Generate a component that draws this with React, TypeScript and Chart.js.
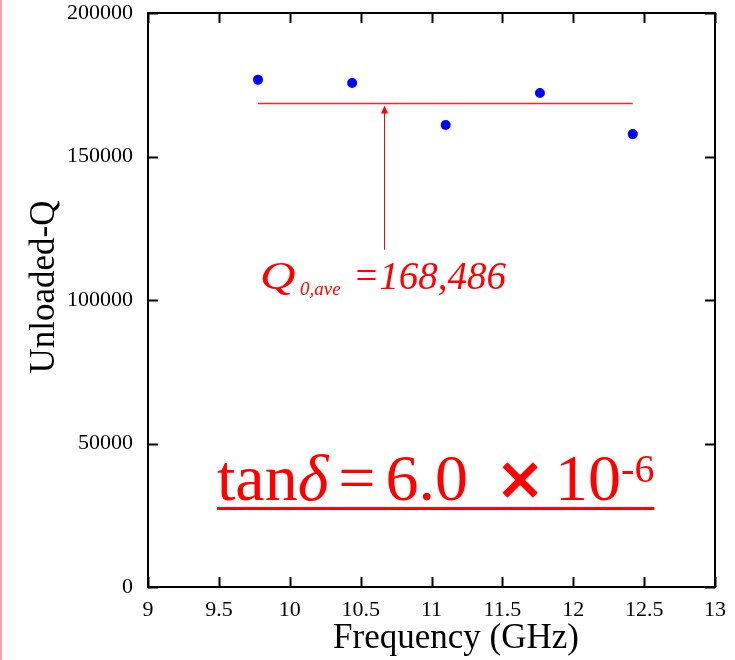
import React, { useEffect, useRef } from "react";
import { Chart, registerables } from "chart.js";

Chart.register(...registerables);

const frequencies = [9.776, 10.44, 11.1, 11.765, 12.42];
const unloadedQ = [176700, 175600, 161000, 172100, 157800];
const qAverage = 168486;
const arrowX = 10.665;
const arrowFromY = 117500;
const xTicks = [9, 9.5, 10, 10.5, 11, 11.5, 12, 12.5, 13];
const yTicks = [0, 50000, 100000, 150000, 200000];
const xTitle = "Frequency (GHz)";
const yTitle = "Unloaded-Q";
const qLabelAnchor = { x: 9.79, y: 104000 };
const tanLabelAnchor = { x: 9.487, y: 30300 };

const SERIF = "'Liberation Serif', 'Times New Roman', serif";

const decorPlugin = {
  id: "decor",
  afterDraw(chart: any) {
    const { ctx, chartArea: a, scales } = chart;
    const xs = scales.x;
    const ys = scales.y;
    ctx.save();
    // pink page edge
    ctx.strokeStyle = "#f5a3ab";
    ctx.lineWidth = 2;
    ctx.beginPath();
    ctx.moveTo(1, 0);
    ctx.lineTo(1, chart.height);
    ctx.stroke();

    // frame
    ctx.strokeStyle = "#000";
    ctx.lineWidth = 2;
    ctx.strokeRect(a.left, a.top, a.right - a.left, a.bottom - a.top);
    // inward ticks
    const tl = 10;
    ctx.beginPath();
    xTicks.forEach((v) => {
      const px = Math.round(xs.getPixelForValue(v)) + 0.5;
      ctx.moveTo(px, a.bottom);
      ctx.lineTo(px, a.bottom - tl);
      ctx.moveTo(px, a.top);
      ctx.lineTo(px, a.top + tl);
    });
    yTicks.forEach((v) => {
      const py = Math.round(ys.getPixelForValue(v)) + 0.5;
      ctx.moveTo(a.left, py);
      ctx.lineTo(a.left + tl, py);
      ctx.moveTo(a.right, py);
      ctx.lineTo(a.right - tl, py);
    });
    ctx.stroke();

    // axis titles
    ctx.fillStyle = "#000";
    ctx.font = `35px ${SERIF}`;
    ctx.textAlign = "center";
    ctx.textBaseline = "alphabetic";
    ctx.fillText(xTitle, 456, 648);
    ctx.save();
    ctx.translate(54, 287);
    ctx.rotate(-Math.PI / 2);
    ctx.fillText(yTitle, 0, 0);
    ctx.restore();

    // arrow
    const ax = Math.round(xs.getPixelForValue(arrowX)) + 0.5;
    const ay0 = ys.getPixelForValue(arrowFromY);
    const ay1 = ys.getPixelForValue(qAverage) + 2;
    ctx.strokeStyle = "#ff0000";
    ctx.fillStyle = "#ff0000";
    ctx.lineWidth = 1;
    ctx.beginPath();
    ctx.moveTo(ax, ay0);
    ctx.lineTo(ax, ay1 + 6);
    ctx.stroke();
    ctx.beginPath();
    ctx.moveTo(ax, ay1);
    ctx.lineTo(ax - 3.5, ay1 + 8);
    ctx.lineTo(ax + 3.5, ay1 + 8);
    ctx.closePath();
    ctx.fill();

    // Q label
    ctx.textAlign = "left";
    const q0 = xs.getPixelForValue(qLabelAnchor.x);
    const qy = ys.getPixelForValue(qLabelAnchor.y);
    ctx.save();
    ctx.translate(q0, qy);
    ctx.scale(1.2, 1);
    ctx.font = `italic 41px ${SERIF}`;
    ctx.fillText("Q", 0, 0);
    ctx.restore();
    ctx.font = `italic 19px ${SERIF}`;
    ctx.fillText("0,ave", q0 + 40, qy + 6);
    ctx.font = `italic 39px ${SERIF}`;
    ctx.fillText("=", q0 + 93, qy);
    ctx.fillText("168,486", q0 + 93 + ctx.measureText("=").width, qy);

    // tan delta label
    const tx0 = xs.getPixelForValue(tanLabelAnchor.x);
    const ty = ys.getPixelForValue(tanLabelAnchor.y);
    let tx = tx0;
    ctx.font = `66px ${SERIF}`;
    ctx.fillText("tan", tx, ty);
    tx += ctx.measureText("tan").width;
    ctx.font = `italic 66px ${SERIF}`;
    ctx.fillText("\u03b4", tx, ty);
    tx += ctx.measureText("\u03b4").width + 10;
    ctx.font = `66px ${SERIF}`;
    ctx.fillText("=", tx, ty);
    tx += ctx.measureText("=").width + 10;
    ctx.fillText("6.0", tx, ty);
    tx += ctx.measureText("6.0").width + 52;
    ctx.font = `bold 60px 'DejaVu Sans', sans-serif`;
    ctx.textAlign = "center";
    ctx.fillText("\u00d7", tx, ty - 1);
    ctx.textAlign = "left";
    tx += 35;
    ctx.font = `66px ${SERIF}`;
    ctx.fillText("10", tx, ty);
    tx += ctx.measureText("10").width;
    ctx.font = `40px ${SERIF}`;
    ctx.fillText("-6", tx, ty - 18);
    tx += ctx.measureText("-6").width;
    ctx.fillRect(tx0, ty + 7, tx - tx0, 3);

    ctx.restore();
  },
};

export default function App() {
  const ref = useRef<HTMLCanvasElement | null>(null);
  useEffect(() => {
    document.body.style.margin = "0";
    const canvas = ref.current!;
    const chart = new Chart(canvas, {
      type: "scatter",
      data: {
        datasets: [
          {
            type: "line",
            data: [
              { x: frequencies[0], y: qAverage },
              { x: frequencies[frequencies.length - 1], y: qAverage },
            ],
            borderColor: "rgba(255,0,0,0.85)",
            borderWidth: 1.5,
            pointRadius: 0,
            fill: false,
          } as any,
          {
            type: "scatter",
            data: frequencies.map((f, i) => ({ x: f, y: unloadedQ[i] })),
            backgroundColor: "#0000ff",
            borderColor: "#0000ff",
            borderWidth: 0,
            pointRadius: 5,
          },
        ],
      },
      options: {
        responsive: false,
        animation: false,
        layout: { autoPadding: false, padding: { left: 0, right: 20, top: 13, bottom: 0 } },
        plugins: { legend: { display: false }, tooltip: { enabled: false } },
        scales: {
          x: {
            type: "linear",
            min: 9,
            max: 13,
            afterBuildTicks: (s: any) => {
              s.ticks = xTicks.map((v) => ({ value: v }));
            },
            afterFit: (s: any) => {
              s.height = 73;
              s.paddingLeft = 0;
              s.paddingRight = 0;
            },
            grid: { display: false, drawTicks: false },
            border: { display: false },
            ticks: {
              color: "#000",
              font: { family: SERIF, size: 22 },
              padding: 10,
              maxRotation: 0,
              autoSkip: false,
              callback: (v: any) => String(v),
            },
          },
          y: {
            type: "linear",
            min: 0,
            max: 200000,
            afterBuildTicks: (s: any) => {
              s.ticks = yTicks.map((v) => ({ value: v }));
            },
            afterFit: (s: any) => {
              s.width = 148;
              s.paddingTop = 0;
              s.paddingBottom = 0;
            },
            grid: { display: false, drawTicks: false },
            border: { display: false },
            ticks: {
              color: "#000",
              font: { family: SERIF, size: 22 },
              padding: 15,
              autoSkip: false,
              callback: (v: any) => String(v),
            },
          },
        },
      },
      plugins: [decorPlugin],
    });
    return () => chart.destroy();
  }, []);
  return <canvas ref={ref} width={735} height={660} style={{ display: "block" }} />;
}
